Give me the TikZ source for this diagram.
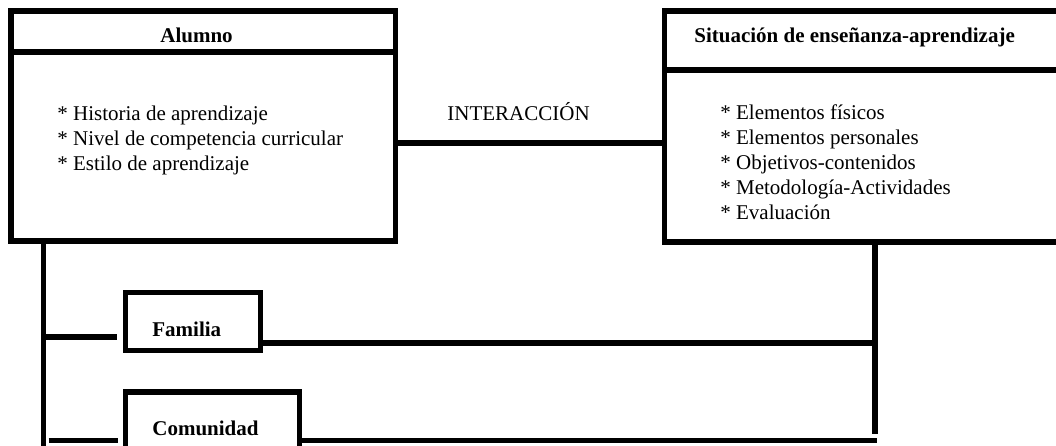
\documentclass[tikz,border=0pt]{standalone}
\usepackage{fontspec}
\setmainfont{Liberation Serif}
\tikzset{
  caja/.style={draw, line width=2.9pt, rectangle, inner sep=0pt},
  texto/.style={inner sep=0pt, anchor=base west, font=\fontsize{10.5}{12.5}\selectfont},
  titulo/.style={texto, font=\fontsize{10.5}{12.5}\selectfont\bfseries},
  link/.style={line width=2.75pt}
}
\begin{document}
\begin{tikzpicture}[x=0.5pt, y=-0.5pt]
      \useasboundingbox (0,0) rectangle (1056,445);
      \clip (0,0) rectangle (1056,445);
      \node[caja, minimum width=192.25pt, minimum height=20.5pt] (alumnoHead) at (203.25,31.5) {};
      \node[caja, minimum width=192.25pt, minimum height=94.5pt] (alumnoBody) at (203.25,146.5) {};
      \node[caja, minimum width=202.75pt, minimum height=29.5pt] (situacionHead) at (867.25,40.5) {};
      \node[caja, minimum width=202.75pt, minimum height=86pt] (situacionBody) at (867.25,156) {};
      \node[caja, minimum width=67.5pt, minimum height=29pt] (familia) at (193,321.5) {};
      \node[caja, minimum width=87pt, minimum height=39pt] (comunidad) at (212.5,431) {};
      \node[titulo] (alumnoTxt) at (160,42) {Alumno};
      \node[titulo] (situacionTxt) at (694,42) {Situación de enseñanza-aprendizaje};
      \node[titulo] (familiaTxt) at (152,336) {Familia};
      \node[titulo] (comunidadTxt) at (152,435) {Comunidad};
      \node[texto] (interaccion) at (447,120) {INTERACCIÓN};
      \foreach \t [count=\i from 0] in {Historia de aprendizaje,
          Nivel de competencia curricular, Estilo de aprendizaje}
        \node[texto] (alumno\i) at (57,120+25*\i) {* \t};
      \foreach \t [count=\i from 0] in {Elementos físicos, Elementos personales,
          Objetivos-contenidos, Metodología-Actividades, Evaluación}
        \node[texto] (situacion\i) at (720,119+25*\i) {* \t};
      \coordinate (leftBot) at (43.5,460);
      \coordinate (rightBot) at (875,434);
      \coordinate (comEnd) at (877,440.5);
      \begin{scope}[link]
        \draw (alumnoBody.east |- 0,143) -- (situacionBody.west |- 0,143);
        \draw (alumnoBody.south -| leftBot) -- (leftBot);
        \draw (situacionBody.south -| rightBot) -- (rightBot);
        \draw[shorten >=2.75pt] (leftBot |- 0,337) -- (familia.west |- 0,337);
        \draw (familia.east |- 0,343) -- (rightBot |- 0,343);
        \draw[shorten <=2.5pt, shorten >=2.5pt] (leftBot |- 0,440.5) -- (comunidad.west |- 0,440.5);
        \draw (comunidad.east |- 0,440.5) -- (comEnd);
      \end{scope}
    \end{tikzpicture}
\end{document}
